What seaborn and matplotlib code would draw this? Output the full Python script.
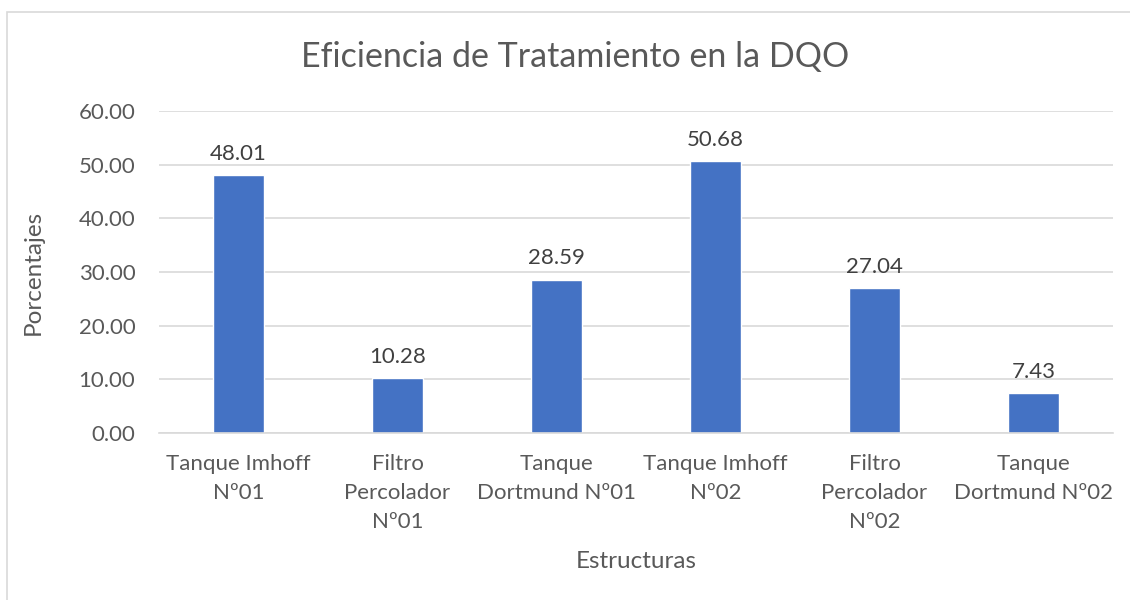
import matplotlib
matplotlib.use("Agg")
import matplotlib.pyplot as plt
import seaborn as sns
import pandas as pd
from matplotlib.patches import Rectangle

estructuras = ["Tanque Imhoff\nNº01", "Filtro\nPercolador\nNº01", "Tanque\nDortmund Nº01",
               "Tanque Imhoff\nNº02", "Filtro\nPercolador\nNº02", "Tanque\nDortmund Nº02"]
porcentajes = [48.01, 10.28, 28.59, 50.68, 27.04, 7.43]
ticks_y = [0, 10, 20, 30, 40, 50, 60]

df = pd.DataFrame({"Estructuras": estructuras, "Porcentajes": porcentajes})

sns.set_theme(style="white")
plt.rcParams["font.family"] = ["Lato", "DejaVu Sans"]
gris = "#595959"
azul = "#4472C4"

fig = plt.figure(figsize=(11.3, 6.0), dpi=100)
ax = fig.add_axes([159 / 1130, 1 - 433 / 600, (1113 - 159) / 1130, (433 - 111) / 600])

sns.barplot(data=df, x="Estructuras", y="Porcentajes", color=azul, width=0.315,
            saturation=1, ax=ax)

ax.set_ylim(0, 60)
ax.set_yticks(ticks_y)
ax.set_yticklabels([f"{v:.2f}" for v in ticks_y], color=gris, fontsize=16)
ax.tick_params(axis="y", length=0, pad=17)
ax.tick_params(axis="x", length=0, pad=15, labelsize=16, labelcolor=gris)
for lab in ax.get_xticklabels():
    lab.set_linespacing(1.56)
ax.yaxis.grid(True, color="#D9D9D9", linewidth=1.2)
ax.set_axisbelow(True)
for side in ["top", "right", "left"]:
    ax.spines[side].set_visible(False)
ax.spines["bottom"].set_color("#D9D9D9")
ax.spines["bottom"].set_linewidth(1.2)

for patch, v in zip(ax.patches, porcentajes):
    ax.annotate(f"{v:.2f}", (patch.get_x() + patch.get_width() / 2, v),
                xytext=(0, 8), textcoords="offset points", ha="center", va="bottom",
                fontsize=16, color="#404040")

ax.set_xlabel("")
ax.set_ylabel("")
fig.text(33 / 1130, 1 - 272 / 600, "Porcentajes", rotation=90, ha="center", va="center",
         fontsize=17.5, color=gris)
fig.text(636 / 1130, 1 - 562 / 600, "Estructuras", ha="center", va="center",
         fontsize=17.5, color=gris)
fig.text(575 / 1130, 1 - 57 / 600, "Eficiencia de Tratamiento en la DQO", ha="center",
         va="center", fontsize=24.5, color=gris)

fig.patches.append(Rectangle((7 / 1130, -0.05), 1.2, 1 - 12 / 600 + 0.05,
                             transform=fig.transFigure, fill=False,
                             edgecolor="#D9D9D9", linewidth=1.2))

fig.savefig("out.png", dpi=100)
